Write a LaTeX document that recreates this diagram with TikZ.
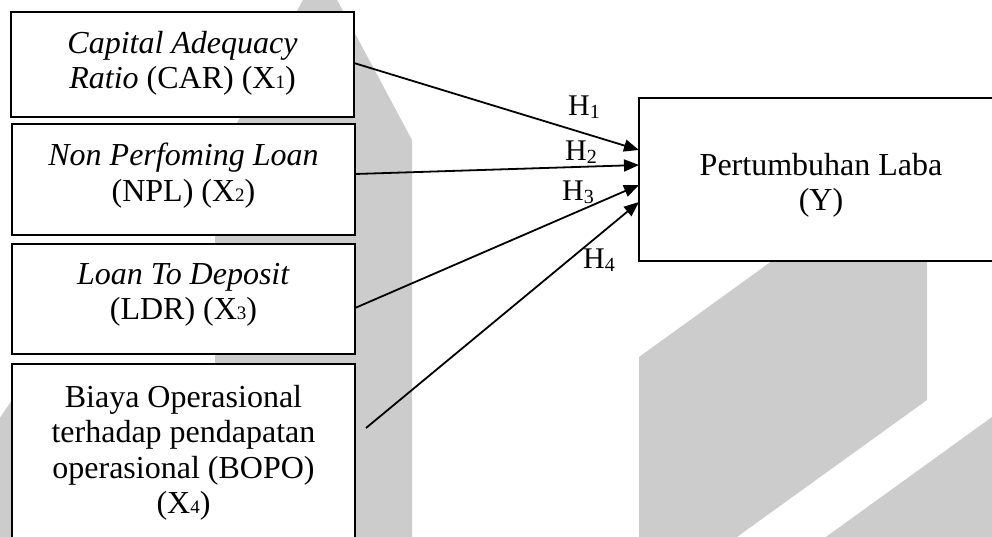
\documentclass[tikz,border=0pt]{standalone}
\usepackage{fontspec}
\setmainfont{Liberation Serif}
\usetikzlibrary{positioning,arrows.meta}

\newcommand{\xsub}[1]{{\fontsize{19}{19}\selectfont #1}}
\newcommand{\hsub}[1]{\raisebox{-3pt}{\fontsize{20}{20}\selectfont #1}}

\tikzset{
  varbox/.style={draw, line width=2pt, fill=white, minimum width=343pt, inner sep=0pt, outer sep=0pt},
  vartext/.style={align=center, inner sep=0pt, outer sep=0pt, font=\fontsize{32}{35.5}\selectfont},
  hyp/.style={-{Triangle[length=15pt,width=12pt]}, line width=1.8pt},
  hlabel/.style={inner sep=0pt, anchor=base west, font=\fontsize{30}{30}\selectfont},
  wmark/.style={fill=black!20, draw=none}
}

\begin{document}
\begin{tikzpicture}[x=1pt,y=-1pt]
    \useasboundingbox (0,0) rectangle (992,536);
    \clip (0,0) rectangle (992,536);

    % Watermark
    \fill[wmark] (215,560) -- (215,164) -- (320,-32) -- (412,140) -- (412,560) -- cycle;
    \fill[wmark] (-5,425) -- (12,400) -- (12,560) -- (-5,560) -- cycle;
    \fill[wmark] (639,560) -- (639,357) -- (927,149) -- (927,400) -- (705,560) -- cycle;
    \fill[wmark] (794,560) -- (1010,404) -- (1010,560) -- cycle;

    % Independent variables
    \node[varbox, minimum height=105pt] (x1) at (182.5,64.5) {};
    \node[vartext, below=19pt of x1.north] (x1t) {\textit{Capital Adequacy}\\\textit{Ratio} (CAR) (X\xsub{1})};

    \node[varbox, minimum height=111pt] (x2) at (183.5,179.5) {};
    \node[vartext, below=19pt of x2.north] (x2t) {\textit{Non Perfoming Loan}\\(NPL) (X\xsub{2})};

    \node[varbox, minimum height=110pt] (x3) at (183.5,299) {};
    \node[vartext, below=19pt of x3.north] (x3t) {\textit{Loan To Deposit}\\(LDR) (X\xsub{3})};

    \node[varbox, minimum height=177pt] (x4) at (183.5,452.5) {};
    \node[vartext, below=21pt of x4.north] (x4t) {Biaya Operasional\\terhadap pendapatan\\operasional (BOPO)\\(X\xsub{4})};

    % Dependent variable
    \node[varbox, minimum width=364pt, minimum height=163pt] (yv) at (821,179.5) {};
    \node[vartext, below=55pt of yv.north] (yvt) {Pertumbuhan Laba\\(Y)};

    % Hypotheses
    \coordinate (x4out) at (366,428);
    \draw[hyp] ([yshift=1.5pt]x1.east) -- ([yshift=29.5pt]yv.west);
    \draw[hyp] ([yshift=5.5pt]x2.east) -- ([yshift=14.5pt]yv.west);
    \draw[hyp] ([yshift=-9pt]x3.east) -- ([yshift=-5.5pt]yv.west);
    \draw[hyp] (x4out) -- ([yshift=-22.5pt]yv.west);

    \node[hlabel] (h1) at (568,115) {H\hsub{1}};
    \node[hlabel] (h2) at (565,160) {H\hsub{2}};
    \node[hlabel] (h3) at (562,200) {H\hsub{3}};
    \node[hlabel] (h4) at (583,268) {H\hsub{4}};
\end{tikzpicture}
\end{document}
